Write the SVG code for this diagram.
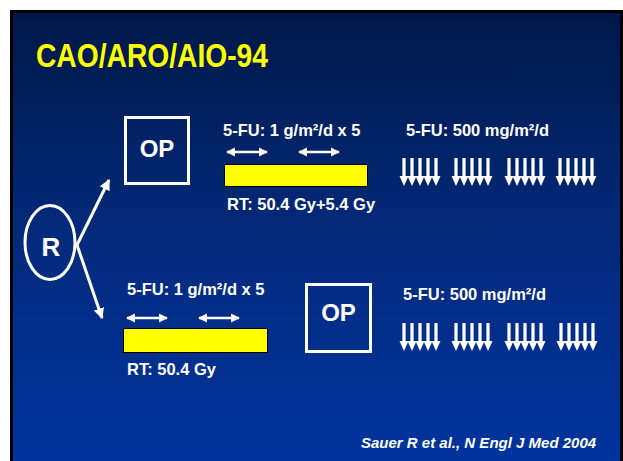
<svg xmlns="http://www.w3.org/2000/svg" xmlns:xlink="http://www.w3.org/1999/xlink" width="623" height="461" viewBox="0 0 623 461">
<defs>
<linearGradient id="bg" x1="0" y1="0" x2="0" y2="1">
<stop offset="0" stop-color="#001848"/>
<stop offset="0.5" stop-color="#042a7c"/>
<stop offset="1" stop-color="#00349e"/>
</linearGradient>
<marker id="ah" viewBox="0 0 10 10" refX="9" refY="5" markerWidth="3.4" markerHeight="3.6" orient="auto-start-reverse" markerUnits="strokeWidth">
<path d="M0,0 L10,5 L0,10 Z" fill="#fff"/>
</marker>
<marker id="ahb" viewBox="0 0 10 10" refX="9" refY="5" markerWidth="3.6" markerHeight="3.6" orient="auto" markerUnits="strokeWidth">
<path d="M0,0 L10,5 L0,10 Z" fill="#fff"/>
</marker>
<g id="dn" fill="#fff">
<rect x="2.4" y="0" width="3.2" height="20"/>
<rect x="10.4" y="0" width="3.2" height="20"/>
<rect x="18.4" y="0" width="3.2" height="20"/>
<rect x="26.4" y="0" width="3.2" height="20"/>
<rect x="34.4" y="0" width="3.2" height="20"/>
<path d="M-0.5,18 L8.5,18 L4,28 Z M7.5,18 L16.5,18 L12,28 Z M15.5,18 L24.5,18 L20,28 Z M23.5,18 L32.5,18 L28,28 Z M31.5,18 L40.5,18 L36,28 Z"/>
</g>
</defs>
<style>
.t{font-family:"Liberation Sans",Arial,sans-serif;font-weight:bold;fill:#fff}
.box{fill:none;stroke:#fff;stroke-width:3}
.bar{fill:#ffff00;stroke:#000;stroke-width:1}
.dbl{stroke:#fff;stroke-width:2.6;fill:none;marker-start:url(#ah);marker-end:url(#ah)}
.con{stroke:#fff;stroke-width:3;fill:none;marker-end:url(#ahb)}
</style>
<rect x="0" y="0" width="623" height="461" fill="#fff"/>
<rect x="10" y="10" width="613" height="451" fill="#000"/>
<rect x="13" y="13" width="607" height="448" fill="url(#bg)"/>
<text x="36" y="67" class="t" style="fill:#ffff00;font-size:33px" textLength="232" lengthAdjust="spacingAndGlyphs">CAO/ARO/AIO-94</text>

<g id="R">
<ellipse cx="50" cy="242.5" rx="25" ry="37" fill="none" stroke="#fff" stroke-width="3"/>
<text x="51" y="256" class="t" style="font-size:26px" text-anchor="middle">R</text>
</g>

<g id="op1">
<rect x="125.5" y="117.5" width="63" height="66" class="box"/>
<text x="157" y="157" class="t" style="font-size:24px" text-anchor="middle">OP</text>
</g>

<g id="op2">
<rect x="306.5" y="284.5" width="64" height="67" class="box"/>
<text x="338.5" y="321" class="t" style="font-size:24px" text-anchor="middle">OP</text>
</g>

<g id="arm1">
<text x="223" y="136" class="t" style="font-size:16.5px">5-FU: 1 g/m²/d x 5</text>
<line x1="227" y1="152" x2="267" y2="152" class="dbl"/>
<line x1="299" y1="152" x2="339" y2="152" class="dbl"/>
<rect x="224.5" y="164.5" width="143" height="22" class="bar"/>
<text x="227" y="210" class="t" style="font-size:16.5px">RT: 50.4 Gy+5.4 Gy</text>
<text x="406" y="136" class="t" style="font-size:16.5px">5-FU: 500 mg/m²/d</text>
<use xlink:href="#dn" x="400" y="158"/>
<use xlink:href="#dn" x="452" y="158"/>
<use xlink:href="#dn" x="505" y="158"/>
<use xlink:href="#dn" x="556" y="158"/>
</g>

<g id="arm2">
<text x="127" y="295" class="t" style="font-size:16.5px">5-FU: 1 g/m²/d x 5</text>
<line x1="127" y1="318" x2="167" y2="318" class="dbl"/>
<line x1="199" y1="318" x2="239" y2="318" class="dbl"/>
<rect x="123.5" y="328.5" width="144" height="24" class="bar"/>
<text x="127" y="375" class="t" style="font-size:16.5px">RT: 50.4 Gy</text>
<text x="403" y="300" class="t" style="font-size:16.5px">5-FU: 500 mg/m²/d</text>
<use xlink:href="#dn" x="400" y="323"/>
<use xlink:href="#dn" x="452" y="323"/>
<use xlink:href="#dn" x="505" y="323"/>
<use xlink:href="#dn" x="557" y="323"/>
</g>

<g id="connectors">
<path d="M77,245 L109,180" class="con"/>
<path d="M77,245 L102,318" class="con"/>
</g>

<text x="361" y="448" class="t" style="font-size:15px;font-style:italic">Sauer R et al., N Engl J Med 2004</text>
</svg>
